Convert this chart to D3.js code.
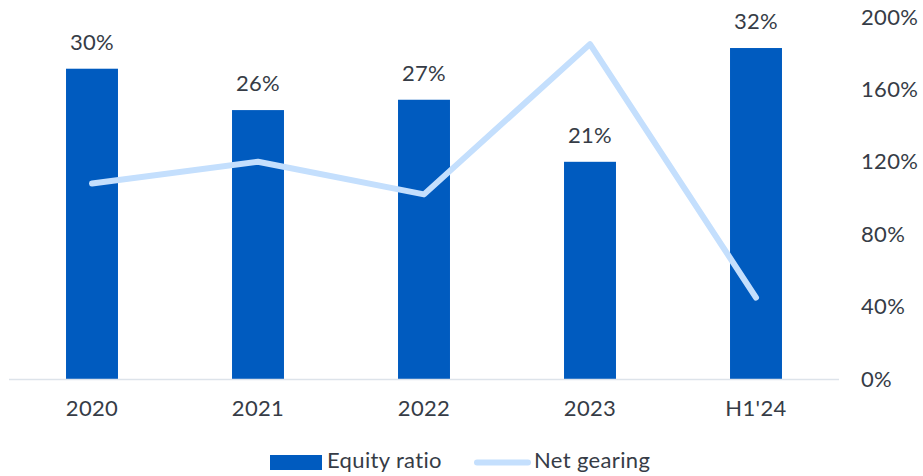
<!DOCTYPE html>
<html>
<head>
<meta charset="utf-8">
<script src="https://cdn.jsdelivr.net/npm/d3@7"></script>
<style>
  html, body { margin: 0; padding: 0; background: #ffffff; }
  svg { display: block; font-family: Lato, "Open Sans", sans-serif; }
  svg text { letter-spacing: 0.35px; }
</style>
</head>
<body>
<svg id="chart" width="923" height="476"></svg>
<script>
// Periods shown along the x axis
const periods = ["2020", "2021", "2022", "2023", "H1'24"];
// Equity ratio, % (bars, labelled)
const equityRatio = [30, 26, 27, 21, 32];
// Net gearing, % (line, right axis)
const netGearing = [108, 120, 102, 185, 45];
// Right axis ticks, %
const gearingTicks = [0, 40, 80, 120, 160, 200];

const barColor = "#005bbf";
const lineColor = "#c4dffd";
const textColor = "#363c46";
const fontSize = 22;

const svg = d3.select("#chart");

const plot = { left: 9, right: 839, top: 17, bottom: 379 };

const x = d3.scaleBand()
  .domain(periods)
  .range([plot.left, plot.right])
  .paddingInner(0.687)
  .paddingOuter(0.3435);

const yBar = d3.scaleLinear().domain([0, 35]).range([plot.bottom, plot.top]);
const yLine = d3.scaleLinear().domain([0, 200]).range([plot.bottom, plot.top]);

// Bars
svg.append("g").selectAll("rect")
  .data(periods)
  .join("rect")
  .attr("x", d => x(d))
  .attr("width", x.bandwidth())
  .attr("y", (d, i) => yBar(equityRatio[i]))
  .attr("height", (d, i) => plot.bottom - yBar(equityRatio[i]))
  .attr("fill", barColor);

// Bar value labels
svg.append("g").selectAll("text")
  .data(periods)
  .join("text")
  .attr("x", d => x(d) + x.bandwidth() / 2)
  .attr("y", (d, i) => yBar(equityRatio[i]) - 19)
  .attr("text-anchor", "middle")
  .attr("font-size", fontSize)
  .attr("fill", textColor)
  .text((d, i) => equityRatio[i] + "%");

// Baseline
svg.append("line")
  .attr("x1", plot.left).attr("x2", plot.right)
  .attr("y1", plot.bottom + 0.5).attr("y2", plot.bottom + 0.5)
  .attr("stroke", "#dde3ea")
  .attr("stroke-width", 1.5);

// Category axis labels
const xAxis = d3.axisBottom(x).tickSize(0).tickPadding(0);
const gx = svg.append("g")
  .attr("transform", `translate(0,${plot.bottom})`)
  .call(xAxis);
gx.select(".domain").remove();
gx.selectAll("text")
  .attr("dy", null)
  .attr("y", 37)
  .attr("font-size", fontSize)
  .attr("font-family", "Lato, 'Open Sans', sans-serif")
  .attr("fill", textColor);

// Net gearing line
const line = d3.line()
  .x((d, i) => x(periods[i]) + x.bandwidth() / 2)
  .y(d => yLine(d));

svg.append("path")
  .datum(netGearing)
  .attr("d", line)
  .attr("fill", "none")
  .attr("stroke", lineColor)
  .attr("stroke-width", 6)
  .attr("stroke-linejoin", "round")
  .attr("stroke-linecap", "round");

// Right axis
const yAxis = d3.axisRight(yLine)
  .tickValues(gearingTicks)
  .tickFormat(d => d + "%")
  .tickSize(0)
  .tickPadding(0);
const gy = svg.append("g")
  .attr("transform", "translate(861,0)")
  .call(yAxis);
gy.select(".domain").remove();
gy.selectAll("text")
  .attr("x", 0)
  .attr("font-size", fontSize)
  .attr("font-family", "Lato, 'Open Sans', sans-serif")
  .attr("fill", textColor);

// Legend
const legend = svg.append("g");
legend.append("rect")
  .attr("x", 270).attr("y", 455)
  .attr("width", 52).attr("height", 15)
  .attr("fill", barColor);
legend.append("text")
  .attr("x", 327).attr("y", 468)
  .attr("font-size", fontSize)
  .attr("fill", textColor)
  .text("Equity ratio");
legend.append("line")
  .attr("x1", 477).attr("x2", 528)
  .attr("y1", 462.5).attr("y2", 462.5)
  .attr("stroke", lineColor)
  .attr("stroke-width", 6)
  .attr("stroke-linecap", "round");
legend.append("text")
  .attr("x", 534).attr("y", 468)
  .attr("font-size", fontSize)
  .attr("fill", textColor)
  .text("Net gearing");
</script>
</body>
</html>
